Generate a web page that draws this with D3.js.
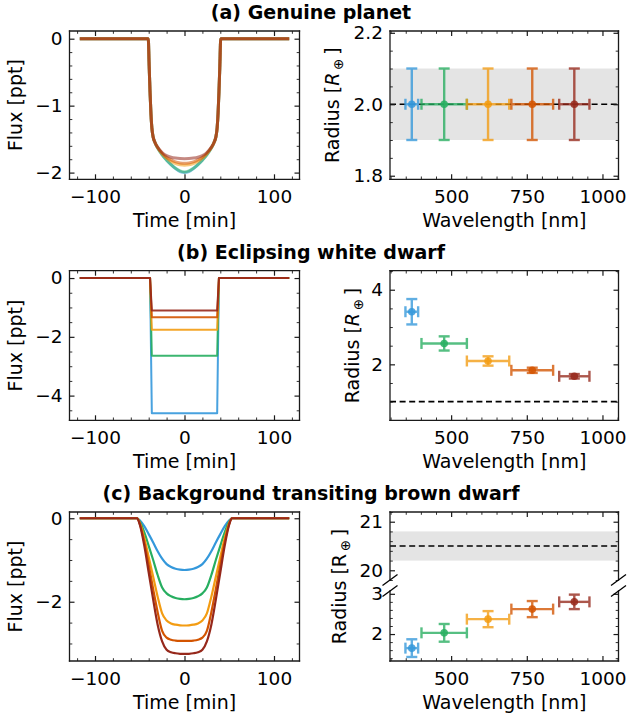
<!DOCTYPE html>
<html>
<head>
<meta charset="utf-8">
<script src="https://cdn.jsdelivr.net/npm/d3@7"></script>
<style>
    body { margin: 0; background: #fff; }
    svg text { font-family: "DejaVu Sans", sans-serif; fill: #000; }
</style>
</head>
<body>
<div id="chart"></div>
<script>

// ---- data ----
const bandColors = ['#3498db', '#27ae60', '#f39c12', '#d35400', '#96281b'];
const bandCenters = [370, 477, 622, 768, 907];      // nm
const bandHalfWidths = [21, 75, 70, 69, 50];        // nm

// (a) genuine planet light curves
const timePlanet = [-117, -40.5, -39.5, -38.5, -37.5, -36.5, -35, -33, -30, -25, -20, -15, -10, -5, 0,
    5, 10, 15, 20, 25, 30, 33, 35, 36.5, 37.5, 38.5, 39.5, 40.5, 117];
const fluxPlanet = [
    [0, 0, -0.4, -0.8, -1.12, -1.33, -1.47, -1.55, -1.63, -1.73, -1.81, -1.88, -1.94, -1.985, -2.0,
        -1.985, -1.94, -1.88, -1.81, -1.73, -1.63, -1.55, -1.47, -1.33, -1.12, -0.8, -0.4, 0, 0],
    [0, 0, -0.4, -0.8, -1.12, -1.33, -1.47, -1.55, -1.635, -1.735, -1.815, -1.88, -1.935, -1.975, -1.99,
        -1.975, -1.935, -1.88, -1.815, -1.735, -1.635, -1.55, -1.47, -1.33, -1.12, -0.8, -0.4, 0, 0],
    [0, 0, -0.4, -0.8, -1.12, -1.33, -1.47, -1.55, -1.63, -1.72, -1.785, -1.835, -1.865, -1.883, -1.89,
        -1.883, -1.865, -1.835, -1.785, -1.72, -1.63, -1.55, -1.47, -1.33, -1.12, -0.8, -0.4, 0, 0],
    [0, 0, -0.4, -0.8, -1.12, -1.33, -1.47, -1.55, -1.625, -1.71, -1.77, -1.81, -1.84, -1.855, -1.86,
        -1.855, -1.84, -1.81, -1.77, -1.71, -1.625, -1.55, -1.47, -1.33, -1.12, -0.8, -0.4, 0, 0],
    [0, 0, -0.4, -0.8, -1.12, -1.33, -1.47, -1.55, -1.62, -1.70, -1.745, -1.77, -1.783, -1.79, -1.792,
        -1.79, -1.783, -1.77, -1.745, -1.70, -1.62, -1.55, -1.47, -1.33, -1.12, -0.8, -0.4, 0, 0]
];
const radiusPlanet = [2.0, 2.0, 2.0, 2.0, 2.0];
const radiusPlanetErr = [0.1, 0.1, 0.1, 0.1, 0.1];
const truePlanet = 2.0;
const truePlanetErr = 0.1;

// (b) eclipsing white dwarf light curves
const timeWD = [-117, -38.5, -36.5, 36.5, 38.5, 117];
const fluxWD = [
    [0, 0, -4.6, -4.6, 0, 0],
    [0, 0, -2.64, -2.64, 0, 0],
    [0, 0, -1.76, -1.76, 0, 0],
    [0, 0, -1.33, -1.33, 0, 0],
    [0, 0, -1.1, -1.1, 0, 0]
];
const radiusWD = [3.41, 2.56, 2.09, 1.84, 1.68];
const radiusWDErr = [0.34, 0.19, 0.125, 0.07, 0.06];
const trueWD = 1.0;

// (c) background transiting brown dwarf light curves
const timeBD = [-117, -53, -50, -45, -40, -35, -30, -25, -20, -15, -10, -5, 0,
    5, 10, 15, 20, 25, 30, 35, 40, 45, 50, 53, 117];
const fluxBD = [
    [0, 0, -0.05, -0.19, -0.38, -0.58, -0.79, -0.97, -1.1, -1.17, -1.21, -1.232, -1.24,
        -1.232, -1.21, -1.17, -1.1, -0.97, -0.79, -0.58, -0.38, -0.19, -0.05, 0, 0],
    [0, 0, -0.08, -0.33, -0.66, -1.0, -1.36, -1.66, -1.8, -1.87, -1.91, -1.932, -1.94,
        -1.932, -1.91, -1.87, -1.8, -1.66, -1.36, -1.0, -0.66, -0.33, -0.08, 0, 0],
    [0, 0, -0.11, -0.47, -0.93, -1.4, -1.88, -2.28, -2.45, -2.52, -2.55, -2.565, -2.57,
        -2.565, -2.55, -2.52, -2.45, -2.28, -1.88, -1.4, -0.93, -0.47, -0.11, 0, 0],
    [0, 0, -0.13, -0.56, -1.12, -1.7, -2.25, -2.7, -2.86, -2.91, -2.93, -2.938, -2.94,
        -2.938, -2.93, -2.91, -2.86, -2.7, -2.25, -1.7, -1.12, -0.56, -0.13, 0, 0],
    [0, 0, -0.15, -0.65, -1.3, -1.95, -2.55, -2.95, -3.15, -3.21, -3.235, -3.247, -3.25,
        -3.247, -3.235, -3.21, -3.15, -2.95, -2.55, -1.95, -1.3, -0.65, -0.15, 0, 0]
];
const radiusBD = [1.65, 2.03, 2.37, 2.62, 2.8];
const radiusBDErr = [0.22, 0.22, 0.2, 0.2, 0.18];
const trueBD = 20.5;
const trueBDErr = 0.3;

// tick values
const timeTicks = [-100, 0, 100];
const waveTicks = [500, 750, 1000];
const fluxTicksA = [-2, -1, 0];
const fluxTicksB = [-4, -2, 0];
const fluxTicksC = [-2, 0];
const radTicksA = [1.8, 2.0, 2.2];
const radTicksB = [2, 4];
const radTicksCTop = [20, 21];
const radTicksCBot = [2, 3];

// ---- layout ----
const W = 630, H = 718;
const tickFont = 18.5, labelFont = 19;
const leftCol = [69.5, 299.5], rightCol = [390, 618.5];
const rows = {a: [31, 179.3], b: [270.7, 420.3], c: [512, 661]};

const svg = d3.select('#chart').append('svg')
    .attr('width', W)
    .attr('height', H);

function minorTicks(start, stop, step, majors) {
    return d3.range(start, stop + step / 2, step)
        .filter(v => !majors.some(m => Math.abs(m - v) < step / 10));
}

// one matplotlib-like axes box with inward ticks on every side
function makeAxes(o) {
    const x = d3.scaleLinear().domain(o.xDomain).range([o.x0, o.x1]);
    const y = d3.scaleLinear().domain(o.yDomain).range([o.y1, o.y0]);
    const sp = Object.assign({top: true, bottom: true, left: true, right: true}, o.spines || {});
    const g = svg.append('g');
    const plot = g.append('g');
    const frame = g.append('g');

    const inX = v => v >= Math.min(...o.xDomain) && v <= Math.max(...o.xDomain);
    const inY = v => v >= Math.min(...o.yDomain) && v <= Math.max(...o.yDomain);
    const xMaj = o.xMajor.filter(inX), xMin = o.xMinor.filter(inX);
    const yMaj = o.yMajor.filter(inY), yMin = o.yMinor.filter(inY);

    function addAxis(gen, tr, vals, size, fmt, pad) {
        const a = frame.append('g')
            .attr('transform', tr)
            .call(gen.tickValues(vals).tickSizeInner(-size).tickSizeOuter(0)
                .tickPadding(pad).tickFormat(fmt));
        // d3 sets its own font on the group, override afterwards
        a.attr('color', '#000')
            .attr('font-size', tickFont)
            .attr('font-family', 'DejaVu Sans');
        a.select('.domain').remove();
        a.selectAll('.tick line').attr('stroke', '#1a1a1a').attr('stroke-width', size > 4 ? 1.2 : 0.9);
    }

    if (sp.bottom) {
        addAxis(d3.axisBottom(x), `translate(0,${o.y1})`, xMin, 2.8, '', 11);
        addAxis(d3.axisBottom(x), `translate(0,${o.y1})`, xMaj, 5, o.xLabels ? d3.format('d') : '', 11);
    }
    if (sp.top) {
        addAxis(d3.axisTop(x), `translate(0,${o.y0})`, xMin, 2.8, '', 6);
        addAxis(d3.axisTop(x), `translate(0,${o.y0})`, xMaj, 5, '', 6);
    }
    addAxis(d3.axisLeft(y), `translate(${o.x0},0)`, yMin, 2.8, '', 7);
    addAxis(d3.axisLeft(y), `translate(${o.x0},0)`, yMaj, 5, d3.format(o.yFormat), 7);
    addAxis(d3.axisRight(y), `translate(${o.x1},0)`, yMin, 2.8, '', 7);
    addAxis(d3.axisRight(y), `translate(${o.x1},0)`, yMaj, 5, '', 7);

    // spines
    const spine = (x1, y1, x2, y2) => frame.append('line')
        .attr('x1', x1).attr('y1', y1).attr('x2', x2).attr('y2', y2)
        .attr('stroke', '#1a1a1a').attr('stroke-width', 1.3).attr('stroke-linecap', 'square');
    if (sp.top) spine(o.x0, o.y0, o.x1, o.y0);
    if (sp.bottom) spine(o.x0, o.y1, o.x1, o.y1);
    spine(o.x0, o.y0, o.x0, o.y1);
    spine(o.x1, o.y0, o.x1, o.y1);

    return {x, y, plot, frame};
}

function drawCurves(ax, times, fluxes, width, opacity, curve) {
    const line = d3.line()
        .x(d => ax.x(d[0]))
        .y(d => ax.y(d[1]))
        .curve(curve);
    fluxes.forEach((f, i) => {
        ax.plot.append('path')
            .datum(d3.zip(times, f))
            .attr('d', line)
            .attr('fill', 'none')
            .attr('stroke', bandColors[i])
            .attr('stroke-width', width)
            .attr('stroke-opacity', opacity)
            .attr('stroke-linejoin', 'round');
    });
}

function drawTruth(ax, value, err) {
    const [x0, x1] = ax.x.range();
    if (err) {
        ax.plot.append('rect')
            .attr('x', x0).attr('width', x1 - x0)
            .attr('y', ax.y(value + err))
            .attr('height', ax.y(value - err) - ax.y(value + err))
            .attr('fill', '#e4e4e4');
    }
    ax.plot.append('line')
        .attr('x1', x0).attr('x2', x1)
        .attr('y1', ax.y(value)).attr('y2', ax.y(value))
        .attr('stroke', '#000')
        .attr('stroke-width', 1.6)
        .attr('stroke-dasharray', '6,3.6');
}

function drawErrorbars(ax, radii, errs) {
    const cap = 5.5;
    radii.forEach((r, i) => {
        const c = bandColors[i];
        const gx = ax.plot.append('g')
            .attr('stroke', c)
            .attr('stroke-width', 2.4)
            .attr('opacity', 0.78);
        const xl = ax.x(bandCenters[i] - bandHalfWidths[i]), xr = ax.x(bandCenters[i] + bandHalfWidths[i]);
        const xc = ax.x(bandCenters[i]);
        const yc = ax.y(r), yt = ax.y(r + errs[i]), yb = ax.y(r - errs[i]);
        gx.append('line').attr('x1', xl).attr('x2', xr).attr('y1', yc).attr('y2', yc);
        gx.append('line').attr('x1', xc).attr('x2', xc).attr('y1', yt).attr('y2', yb);
        [xl, xr].forEach(xx => gx.append('line')
            .attr('x1', xx).attr('x2', xx).attr('y1', yc - cap).attr('y2', yc + cap));
        [yt, yb].forEach(yy => gx.append('line')
            .attr('x1', xc - cap).attr('x2', xc + cap).attr('y1', yy).attr('y2', yy));
        ax.plot.append('circle')
            .attr('cx', xc).attr('cy', yc).attr('r', 3.8)
            .attr('fill', c)
            .attr('opacity', 0.85);
    });
}

function xLabel(text, cx, y) {
    svg.append('text')
        .attr('x', cx).attr('y', y)
        .attr('text-anchor', 'middle')
        .attr('font-size', labelFont)
        .text(text);
}

function fluxLabel(x, cy) {
    svg.append('text')
        .attr('transform', `translate(${x},${cy}) rotate(-90)`)
        .attr('text-anchor', 'middle')
        .attr('font-size', labelFont)
        .text('Flux [ppt]');
}

function radiusLabel(x, cy, italic) {
    const t = svg.append('text')
        .attr('transform', `translate(${x},${cy}) rotate(-90)`)
        .attr('text-anchor', 'middle')
        .attr('font-size', labelFont);
    t.append('tspan').text('Radius [');
    t.append('tspan').attr('font-style', italic ? 'italic' : null).text('R');
    t.append('tspan').attr('font-size', 13.5).attr('dy', 3.5).text('\u2009\u2295');
    t.append('tspan').attr('dy', -3.5).text('\u2009]');
}

function title(text, y) {
    svg.append('text')
        .attr('x', 311).attr('y', y)
        .attr('text-anchor', 'middle')
        .attr('font-size', labelFont)
        .attr('font-weight', 'bold')
        .text(text);
}

const timeMinor = minorTicks(-120, 120, 20, timeTicks);
const waveMinor = minorTicks(300, 1050, 50, waveTicks);
const mid = r => (r[0] + r[1]) / 2;

// ---- row (a) ----
title('(a) Genuine planet', 19);

const axA1 = makeAxes({
    x0: leftCol[0], x1: leftCol[1], y0: rows.a[0], y1: rows.a[1],
    xDomain: [-128.5, 128.5], yDomain: [-2.1, 0.115],
    xMajor: timeTicks, xMinor: timeMinor, xLabels: true,
    yMajor: fluxTicksA, yMinor: minorTicks(-2, 0, 0.2, fluxTicksA), yFormat: 'd'
});
drawCurves(axA1, timePlanet, fluxPlanet, 3, 0.55, d3.curveMonotoneX);

const axA2 = makeAxes({
    x0: rightCol[0], x1: rightCol[1], y0: rows.a[0], y1: rows.a[1],
    xDomain: [298, 1053], yDomain: [1.79, 2.205],
    xMajor: waveTicks, xMinor: waveMinor, xLabels: true,
    yMajor: radTicksA, yMinor: minorTicks(1.8, 2.2, 0.05, radTicksA), yFormat: '.1f'
});
drawTruth(axA2, truePlanet, truePlanetErr);
drawErrorbars(axA2, radiusPlanet, radiusPlanetErr);

xLabel('Time [min]', mid(leftCol), rows.a[1] + 48);
xLabel('Wavelength [nm]', mid(rightCol), rows.a[1] + 48);
fluxLabel(22, mid(rows.a));
radiusLabel(339, mid(rows.a), true);

// ---- row (b) ----
title('(b) Eclipsing white dwarf', 259);

const axB1 = makeAxes({
    x0: leftCol[0], x1: leftCol[1], y0: rows.b[0], y1: rows.b[1],
    xDomain: [-128.5, 128.5], yDomain: [-4.84, 0.25],
    xMajor: timeTicks, xMinor: timeMinor, xLabels: true,
    yMajor: fluxTicksB, yMinor: minorTicks(-4.5, 0, 0.5, fluxTicksB), yFormat: 'd'
});
drawCurves(axB1, timeWD, fluxWD, 2, 0.9, d3.curveLinear);

const axB2 = makeAxes({
    x0: rightCol[0], x1: rightCol[1], y0: rows.b[0], y1: rows.b[1],
    xDomain: [298, 1053], yDomain: [0.5, 4.51],
    xMajor: waveTicks, xMinor: waveMinor, xLabels: true,
    yMajor: radTicksB, yMinor: minorTicks(1, 4.5, 0.5, radTicksB), yFormat: 'd'
});
drawTruth(axB2, trueWD, 0);
drawErrorbars(axB2, radiusWD, radiusWDErr);

xLabel('Time [min]', mid(leftCol), rows.b[1] + 48);
xLabel('Wavelength [nm]', mid(rightCol), rows.b[1] + 48);
fluxLabel(22, mid(rows.b));
radiusLabel(359, mid(rows.b), true);

// ---- row (c) ----
title('(c) Background transiting brown dwarf', 500);

const axC1 = makeAxes({
    x0: leftCol[0], x1: leftCol[1], y0: rows.c[0], y1: rows.c[1],
    xDomain: [-128.5, 128.5], yDomain: [-3.42, 0.15],
    xMajor: timeTicks, xMinor: timeMinor, xLabels: true,
    yMajor: fluxTicksC, yMinor: minorTicks(-3, 0, 0.5, fluxTicksC), yFormat: 'd'
});
drawCurves(axC1, timeBD, fluxBD, 2.2, 1, d3.curveMonotoneX);

// broken radius axis: upper part shows the true radius, lower part the fitted radii
const breakTop = 580, breakBot = 591;
const axC2top = makeAxes({
    x0: rightCol[0], x1: rightCol[1], y0: rows.c[0], y1: breakTop,
    xDomain: [298, 1053], yDomain: [19.8, 21.2],
    xMajor: waveTicks, xMinor: waveMinor, xLabels: false,
    yMajor: radTicksCTop, yMinor: minorTicks(19.8, 21.2, 0.2, radTicksCTop), yFormat: 'd',
    spines: {bottom: false}
});
drawTruth(axC2top, trueBD, trueBDErr);

const axC2bot = makeAxes({
    x0: rightCol[0], x1: rightCol[1], y0: breakBot, y1: rows.c[1],
    xDomain: [298, 1053], yDomain: [1.33, 3.07],
    xMajor: waveTicks, xMinor: waveMinor, xLabels: true,
    yMajor: radTicksCBot, yMinor: minorTicks(1.4, 3.0, 0.2, radTicksCBot), yFormat: 'd',
    spines: {top: false}
});
drawErrorbars(axC2bot, radiusBD, radiusBDErr);

// diagonal break marks
[breakTop, breakBot].forEach(yy => {
    rightCol.forEach(xx => {
        svg.append('line')
            .attr('x1', xx - 7.5).attr('y1', yy + 5.5)
            .attr('x2', xx + 7.5).attr('y2', yy - 5.5)
            .attr('stroke', '#000')
            .attr('stroke-width', 1.3);
    });
});

xLabel('Time [min]', mid(leftCol), rows.c[1] + 48);
xLabel('Wavelength [nm]', mid(rightCol), rows.c[1] + 48);
fluxLabel(22, mid(rows.c));
radiusLabel(346, mid(rows.c), false);

</script>
</body>
</html>
